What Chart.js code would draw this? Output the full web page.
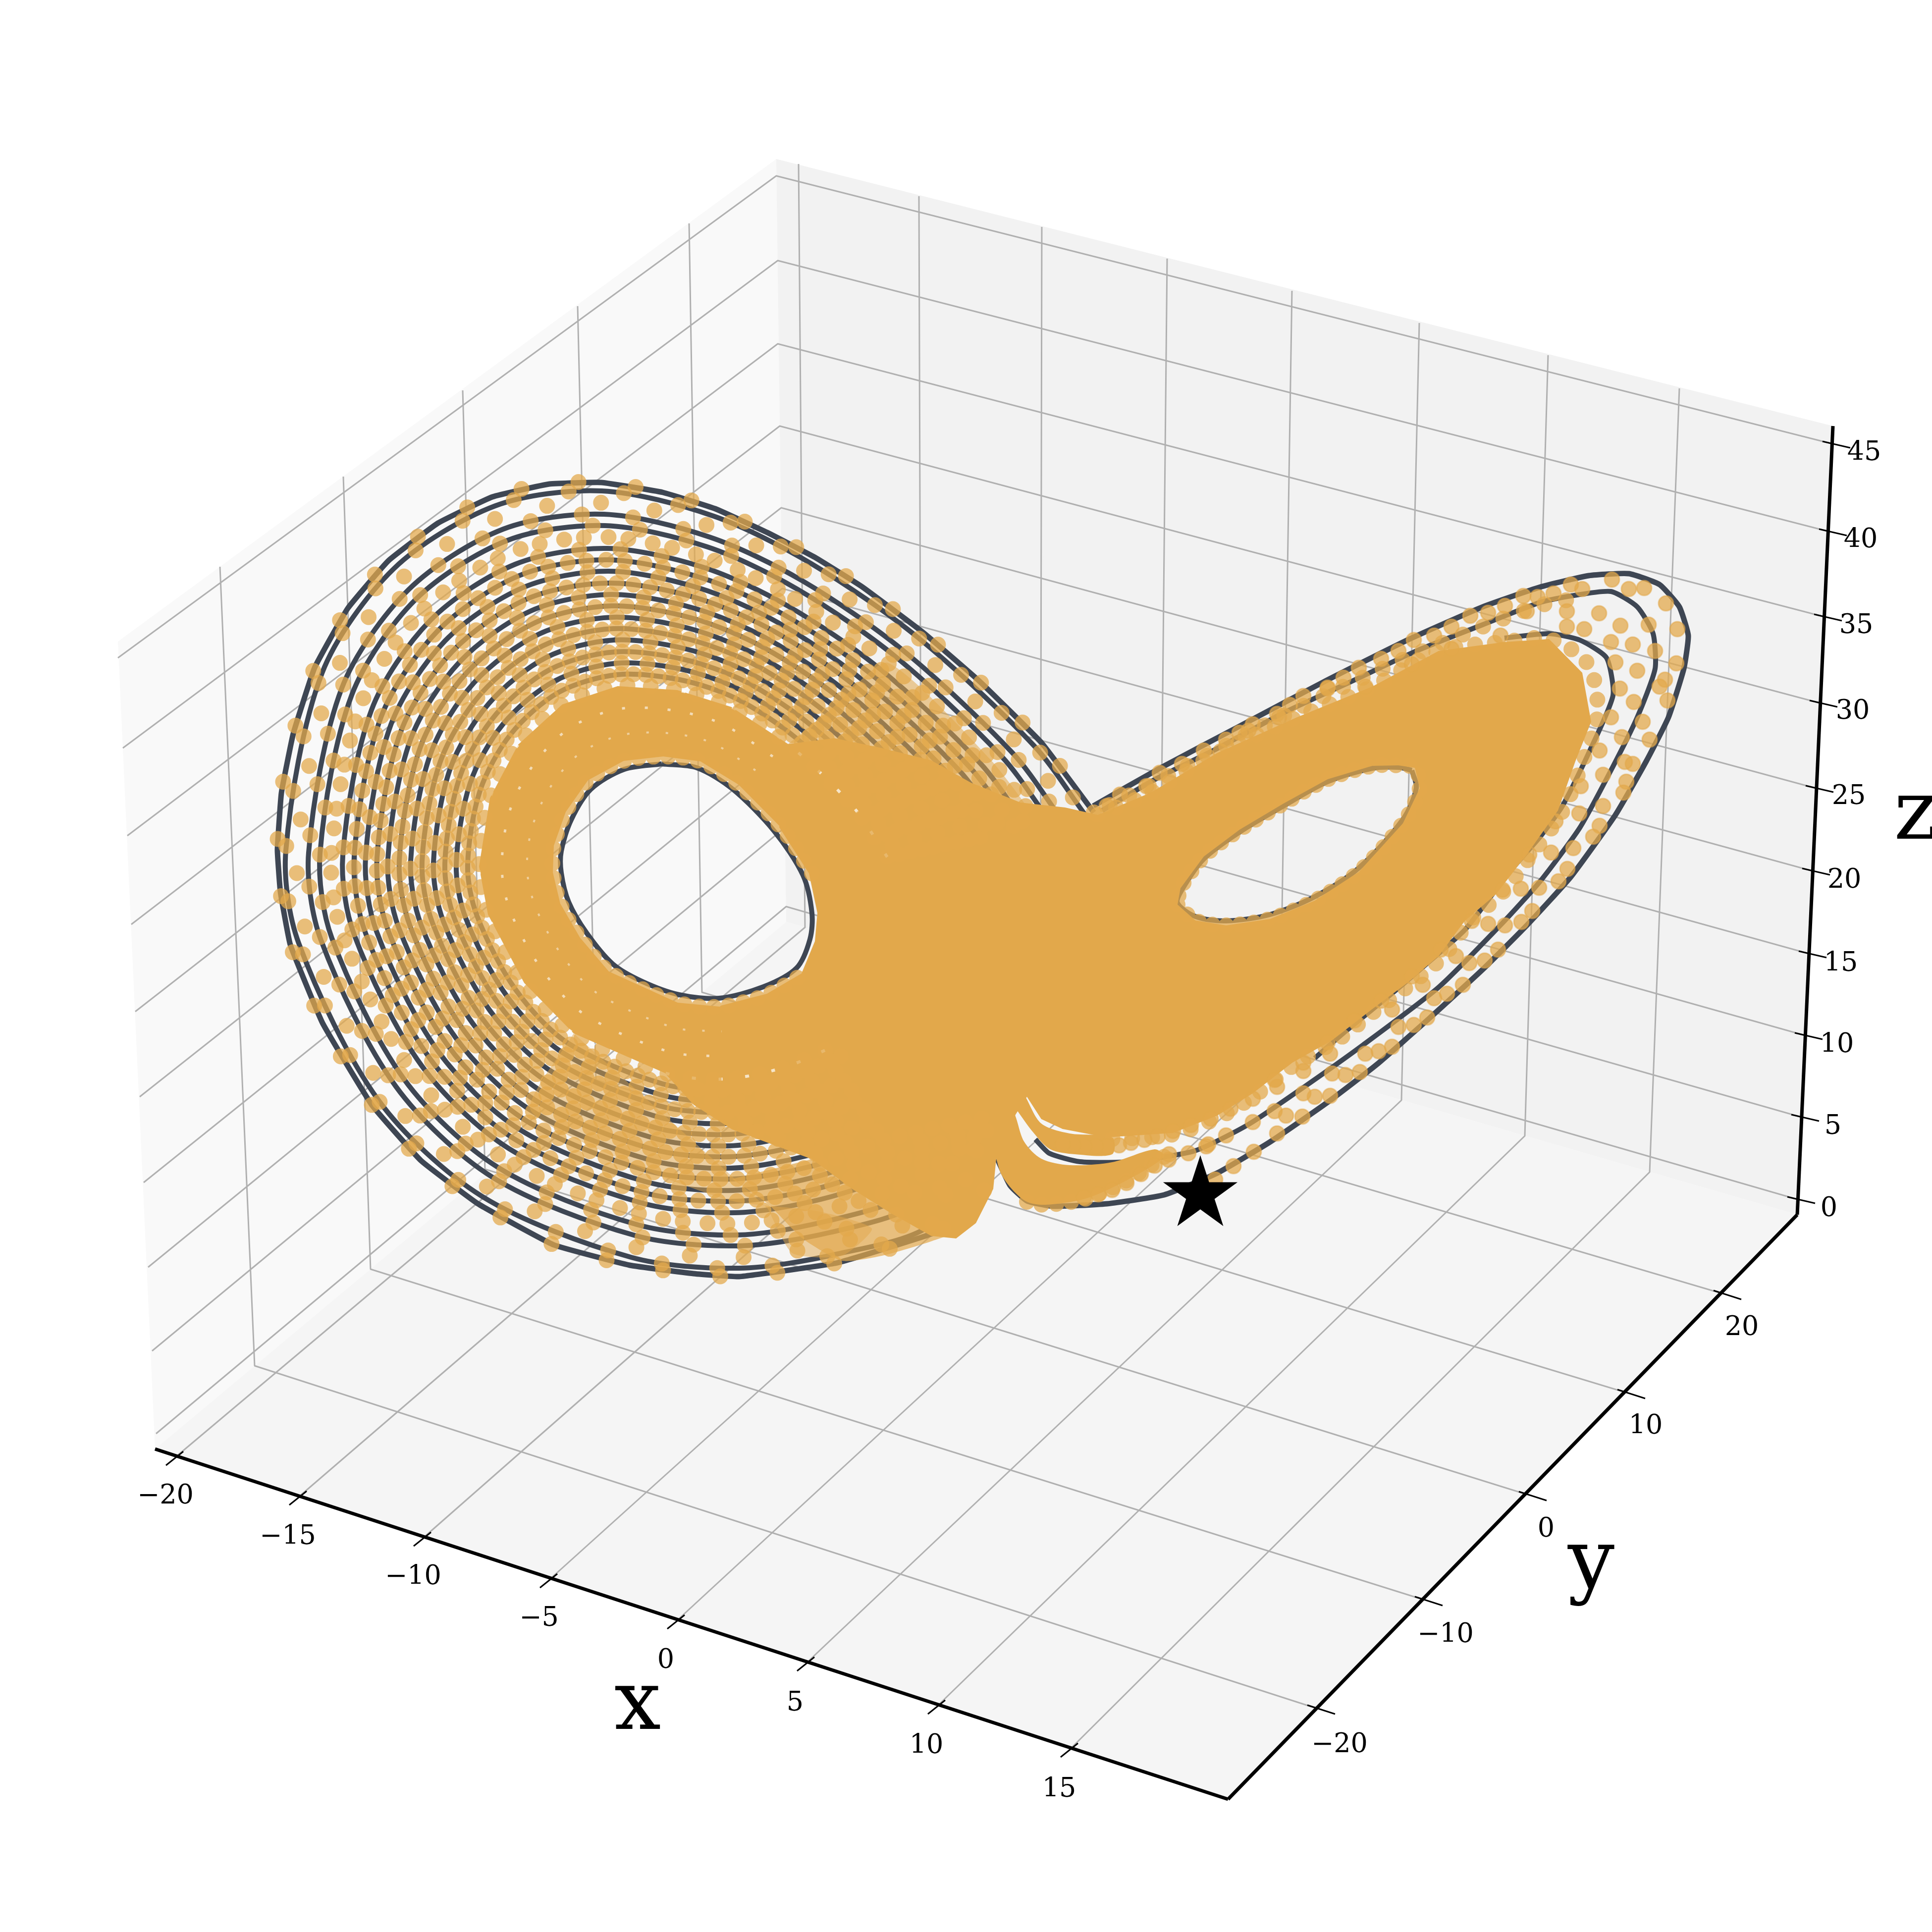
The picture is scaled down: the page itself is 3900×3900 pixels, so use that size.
<!DOCTYPE html>
<html>
<head>
<meta charset="utf-8">
<style>
  html, body { margin: 0; padding: 0; background: #fff; }
  canvas { display: block; }
</style>
<script src="https://cdn.jsdelivr.net/npm/chart.js@4"></script>
</head>
<body>
<canvas id="chart" width="3900" height="3900"></canvas>
<script>
// tick labels
const xTickLabels = ["−20", "−15", "−10", "−5", "0", "5", "10", "15"];
const yTickLabels = ["−20", "−10", "0", "10", "20"];
const zTickLabels = ["45", "40", "35", "30", "25", "20", "15", "10", "5", "0"];

// box, all in the flat view plane of the 3D picture
const leftPane = [[238,1295],[1567,321],[1587,1861],[313,2925]];
const backPane = [[1567,321],[3700,860],[3628,2452],[1587,1861]];
const floorPane = [[313,2925],[1587,1861],[3628,2452],[2479,3632]];
const axisX = [[313,2925],[2479,3632]];
const axisY = [[2479,3632],[3628,2452]];
const axisZ = [[3628,2452],[3700,860]];

const xGrid = [
  [[357,2939],[1625,1872],[1612,331]], [[606,3019],[1860,1940],[1855,396]],
  [[857,3102],[2100,2010],[2103,458]], [[1112,3186],[2340,2079],[2356,522]],
  [[1369,3269],[2583,2149],[2608,587]], [[1631,3354],[2829,2221],[2865,652]],
  [[1895,3441],[3078,2293],[3125,717]], [[2163,3528],[3330,2366],[3390,784]],
];
const yGrid = [
  [[2656,3448],[514,2757],[444,1144]], [[2873,3229],[748,2562],[693,962]],
  [[3083,3017],[979,2360],[934,788]], [[3282,2811],[1203,2180],[1166,618]],
  [[3476,2611],[1417,2003],[1391,451]],
];
const zGrid = [
  [[238,1328],[1567,355],[3699,896]], [[248,1510],[1570,526],[3692,1073]],
  [[257,1687],[1570,694],[3682,1245]], [[265,1866],[1574,860],[3673,1419]],
  [[273,2042],[1577,1025],[3665,1591]], [[282,2214],[1579,1188],[3658,1758]],
  [[290,2387],[1581,1350],[3651,1925]], [[299,2558],[1583,1510],[3643,2090]],
  [[307,2727],[1585,1670],[3636,2255]], [[315,2894],[1587,1830],[3628,2421]],
];
const xLabelAt = [[334,3021],[581,3103],[834,3184],[1088,3268],[1344,3353],[1605,3439],[1870,3525],[2138,3613]];
const yLabelAt = [[2704,3523],[2918,3301],[3121,3088],[3322,2880],[3516,2681]];
const zLabelAt = [[3763,915],[3756,1091],[3747,1264],[3740,1437],[3732,1609],[3723,1778],[3716,1946],[3708,2110],[3700,2275],[3692,2441]];

// left wing, traced loops from the outside in
const leftOuter = [[2208,1640],[2103,1500],[1977,1375],[1865,1278],[1741,1185],[1645,1125],[1549,1075],[1444,1027],[1338,994],[1214,974],[1109,977],[994,1003],[884,1056],[784,1132],[702,1228],[635,1348],[592,1481],[568,1601],[560,1716],[566,1800],[586,1907],[651,2065],[751,2231],[850,2343],[965,2430],[1118,2513],[1271,2554],[1400,2571],[1492,2577],[1691,2549],[1890,2487],[1977,2425],[2002,2313]];
const loop97 = [[2190,1644],[2087,1505],[1853,1287],[1638,1138],[1441,1042],[1215,991],[1000,1021],[795,1148],[650,1359],[577,1717],[603,1904],[764,2221],[973,2415],[1274,2538],[1491,2560],[1687,2532],[1882,2471],[1995,2300]];
const loop93 = [[2167,1649],[2065,1512],[1838,1300],[1628,1155],[1436,1063],[1217,1015],[1008,1044],[810,1169],[670,1374],[600,1719],[625,1901],[781,2207],[984,2396],[1278,2516],[1489,2538],[1681,2510],[1870,2450],[1995,2290]];
const loop89 = [[2143,1654],[2044,1520],[1823,1313],[1619,1172],[1432,1084],[1219,1038],[1016,1068],[825,1190],[690,1389],[623,1721],[648,1898],[799,2193],[995,2377],[1282,2494],[1488,2515],[1675,2488],[1859,2428],[1995,2285]];
const loop85 = [[2120,1659],[2022,1527],[1807,1325],[1609,1189],[1428,1104],[1221,1061],[1024,1091],[839,1210],[710,1403],[646,1723],[670,1894],[816,2179],[1006,2357],[1286,2472],[1486,2493],[1669,2465],[1848,2407],[1995,2280]];
const loop81 = [[2096,1664],[2000,1534],[1792,1338],[1600,1206],[1423,1125],[1223,1084],[1032,1115],[854,1231],[730,1418],[669,1725],[693,1891],[833,2165],[1017,2338],[1290,2450],[1484,2470],[1663,2443],[1836,2386],[1995,2275]];
const loop77 = [[2073,1669],[1979,1541],[1776,1350],[1590,1223],[1419,1145],[1225,1107],[1040,1139],[869,1252],[750,1433],[692,1727],[715,1887],[851,2151],[1028,2319],[1294,2428],[1483,2448],[1657,2421],[1825,2364],[1995,2270]];
const loop73 = [[2050,1674],[1957,1548],[1761,1363],[1581,1240],[1415,1166],[1226,1130],[1048,1162],[884,1273],[769,1448],[715,1728],[738,1884],[868,2137],[1038,2299],[1298,2407],[1481,2425],[1651,2399],[1814,2343],[1995,2265]];
const loop69 = [[2026,1679],[1936,1555],[1745,1376],[1571,1257],[1411,1187],[1228,1153],[1056,1186],[898,1294],[789,1463],[738,1730],[760,1880],[885,2123],[1049,2280],[1302,2385],[1480,2403],[1645,2376],[1803,2322],[1995,2260]];
const loop65 = [[2003,1684],[1914,1562],[1730,1388],[1562,1274],[1406,1207],[1230,1177],[1064,1209],[913,1315],[809,1477],[761,1732],[783,1877],[903,2109],[1060,2261],[1306,2363],[1478,2380],[1639,2354],[1791,2300],[1995,2255]];
const loop61 = [[1979,1690],[1892,1569],[1714,1401],[1552,1291],[1402,1228],[1232,1200],[1072,1233],[928,1336],[829,1492],[783,1734],[805,1873],[920,2095],[1071,2241],[1310,2341],[1476,2358],[1633,2332],[1780,2279]];
const loop57 = [[1956,1695],[1871,1577],[1699,1413],[1543,1308],[1398,1248],[1234,1223],[1080,1257],[943,1357],[849,1507],[806,1736],[828,1870],[937,2081],[1082,2222],[1314,2319],[1475,2335],[1627,2309],[1769,2258]];
const loop53 = [[1932,1700],[1849,1584],[1684,1426],[1533,1325],[1393,1269],[1236,1246],[1088,1280],[957,1378],[869,1522],[829,1738],[850,1867],[955,2067],[1093,2203],[1318,2297],[1473,2313],[1621,2287],[1757,2236]];
const loop49 = [[1909,1705],[1828,1591],[1668,1439],[1524,1342],[1389,1290],[1237,1269],[1095,1304],[972,1399],[889,1537],[852,1739],[873,1863],[972,2054],[1104,2183],[1322,2276],[1472,2290],[1615,2265],[1746,2215]];
const loop45 = [[1885,1710],[1806,1598],[1653,1451],[1514,1359],[1385,1310],[1239,1292],[1103,1327],[987,1420],[909,1551],[875,1741],[895,1860],[989,2040],[1115,2164],[1326,2254],[1470,2268],[1609,2243],[1735,2194]];
const loop41 = [[1862,1715],[1784,1605],[1637,1464],[1505,1376],[1380,1331],[1241,1316],[1111,1351],[1002,1441],[929,1566],[898,1743],[918,1856],[1006,2026],[1125,2144],[1330,2232],[1468,2245],[1603,2220],[1724,2173]];
const loop37 = [[1838,1720],[1763,1612],[1622,1476],[1495,1393],[1376,1351],[1243,1339],[1119,1375],[1016,1461],[949,1581],[921,1745],[940,1853],[1024,2012],[1136,2125],[1334,2210],[1467,2223],[1597,2198],[1712,2151]];
const loop33 = [[1815,1725],[1741,1619],[1606,1489],[1486,1410],[1372,1372],[1245,1362],[1127,1398],[1031,1482],[969,1596],[944,1747],[963,1849],[1041,1998],[1147,2106],[1338,2188],[1465,2200],[1591,2176],[1701,2130]];
const loop29 = [[1791,1730],[1720,1626],[1591,1502],[1476,1427],[1367,1393],[1247,1385],[1135,1422],[1046,1503],[989,1611],[967,1749],[985,1846],[1058,1984],[1158,2086],[1342,2166],[1464,2178],[1585,2154],[1690,2109]];
const loop21 = [[1560,1527],[1457,1461],[1359,1434],[1250,1431],[1151,1469],[1076,1545],[1028,1640],[1013,1752],[1030,1839],[1093,1956],[1180,2048],[1350,2123],[1460,2133]];
const loop12 = [[1525,1555],[1436,1499],[1349,1480],[1254,1484],[1169,1522],[1109,1592],[1073,1674],[1064,1756],[1081,1831],[1132,1925],[1204,2004],[1359,2074],[1457,2082]];
const loop03 = [[1639,1763],[1579,1673],[1491,1584],[1414,1537],[1339,1527],[1259,1536],[1187,1575],[1142,1639],[1118,1707],[1116,1761],[1131,1824],[1171,1893],[1229,1961],[1368,2024],[1453,2032],[1546,2009],[1616,1970]];
const leftHole = [[1336,1542],[1407,1550],[1479,1593],[1563,1678],[1621,1767],[1639,1843],[1635,1896],[1608,1954],[1541,1992],[1452,2015],[1371,2008],[1296,1981],[1237,1946],[1184,1883],[1148,1821],[1133,1762],[1133,1718],[1153,1655],[1193,1593],[1260,1553],[1336,1542]];

// right wing, traced loops
const rightOuter = [[2207,1627],[2341,1551],[2502,1466],[2671,1377],[2841,1292],[2993,1225],[3109,1185],[3207,1162],[3288,1158],[3350,1180],[3390,1225],[3408,1283],[3399,1350],[3368,1448],[3323,1537],[3261,1645],[3171,1770],[3082,1868],[2993,1957],[2886,2055],[2779,2149],[2680,2225],[2564,2305],[2457,2368],[2350,2412],[2234,2430],[2125,2435],[2073,2424],[2039,2393],[2013,2339]];
const rightSecond = [[2225,1636],[2332,1573],[2457,1511],[2591,1439],[2725,1377],[2859,1314],[2993,1261],[3109,1216],[3171,1203],[3252,1194],[3305,1225],[3337,1279],[3341,1350],[3305,1448],[3252,1555],[3189,1671],[3109,1779],[3037,1859],[2904,1993],[2752,2109],[2627,2198],[2520,2270],[2412,2323],[2279,2345],[2180,2345],[2118,2328],[2090,2300]];
const rightThird = [[3037,1288],[3127,1279],[3189,1292],[3243,1328],[3256,1404],[3207,1520],[3154,1627],[3109,1689],[3046,1761],[2957,1877],[2877,1948],[2814,2002],[2716,2082],[2654,2136]];
const rightHole = [[2850,1555],[2859,1591],[2832,1654],[2743,1752],[2654,1810],[2564,1846],[2475,1859],[2413,1850],[2377,1823],[2386,1796],[2430,1734],[2502,1680],[2591,1627],[2680,1578],[2770,1551],[2823,1549],[2850,1555]];
const rightRim = [[2377,1826],[2413,1858],[2475,1868],[2564,1855],[2654,1818],[2743,1760],[2832,1662],[2866,1591],[2856,1550],[2823,1545],[2770,1546],[2680,1573],[2591,1622],[2502,1675],[2430,1729],[2383,1793],[2377,1826]];
const rightTop = [[2240,1625],[2332,1580],[2457,1515],[2591,1445],[2725,1380],[2859,1320],[2993,1265],[3109,1222],[3171,1210]];
const rightEdge = [[2216,1645],[2323,1600],[2457,1520],[2618,1448],[2770,1386],[2904,1314],[3037,1296],[3127,1290],[3205,1340],[3225,1440],[3195,1537],[3155,1636],[3092,1725],[3030,1805],[2967,1859],[2914,1930],[2851,1984],[2780,2037],[2699,2100],[2619,2145],[2539,2207],[2467,2252],[2368,2290],[2234,2300]];

// right wing, the single dots that can be told apart
const dotsA = [[3228,1238],[3271,1263],[3296,1301],[3305,1354],[3298,1417],[3274,1488],[3236,1564],[3188,1642],[3131,1721],[3070,1794],[3004,1865],[2939,1930],[2872,1988],[2810,2038],[2685,2127],[2631,2162],[2578,2194],[2529,2218],[2484,2238],[2444,2258],[2404,2271],[2368,2283],[2337,2294],[2310,2301],[2283,2307],[2259,2312],[2234,2314],[2212,2314],[2189,2314],[2167,2312],[2145,2310]];
const dotsB = [[3386,1270],[3363,1218],[3319,1187],[3288,1189],[3254,1170],[3194,1189],[3171,1180],[3136,1198],[3104,1205],[3075,1203],[3038,1223],[3004,1237],[2968,1243],[2930,1265],[2895,1283],[2854,1292],[2823,1314],[2788,1330],[2743,1348],[2712,1368],[2680,1388],[2631,1405],[2604,1423],[2578,1441],[2529,1462],[2502,1479],[2475,1493],[2430,1515],[2386,1542],[2341,1560],[2314,1587],[2261,1604],[2234,1627]];
const dotsC = [[3384,1339],[3361,1372],[3366,1414],[3341,1314],[3328,1261],[3350,1386],[3330,1493],[3316,1457],[3296,1542],[3280,1538],[3283,1578],[3277,1600],[3236,1627],[3229,1667],[3216,1689],[3176,1712],[3164,1754],[3146,1779],[3107,1792],[3093,1839],[3071,1861],[3038,1868],[3024,1917],[2997,1939],[2966,1944],[2953,1988],[2921,2006],[2895,2015],[2881,2054],[2854,2069],[2823,2073],[2810,2113],[2783,2122],[2756,2127],[2745,2164],[2716,2170],[2689,2167],[2685,2212],[2654,2214],[2631,2207],[2629,2254],[2596,2252],[2573,2243],[2578,2288],[2529,2265],[2531,2325],[2490,2354],[2475,2292],[2439,2310],[2453,2381],[2435,2314],[2399,2328],[2359,2341]];
const dotsD = [[3229,1515],[3191,1587],[3140,1658],[3087,1725],[3033,1796],[2971,1859],[2908,1917],[2850,1971],[2788,2020],[2734,2060],[2680,2104],[2631,2145],[2573,2180],[3029,1283],[3082,1234],[3163,1234],[3163,1265],[3198,1270],[3252,1296],[3261,1337],[3270,1390],[3252,1448],[2930,1310],[2850,1341],[2756,1386],[2680,1390],[2582,1448],[2520,1475]];
const dotsE = [[2360,2330],[2331,2353],[2303,2370],[2274,2388],[2245,2402],[2217,2411],[2188,2417]];

// solid orange where the dots pile up
const leftBand = [[1791,1730],[1720,1626],[1591,1502],[1476,1427],[1367,1393],[1247,1385],[1135,1422],[1046,1503],[989,1611],[967,1749],[985,1846],[1058,1984],[1158,2086],[1342,2166],[1464,2178],[1585,2154],[1690,2109],[1616,1970],[1546,2009],[1453,2032],[1368,2024],[1229,1961],[1171,1893],[1131,1824],[1116,1761],[1118,1707],[1142,1639],[1187,1575],[1259,1536],[1339,1527],[1414,1537],[1491,1584],[1579,1673],[1639,1763]];
const centreMass = [[1633,1763],[1573,1670],[1591,1502],[1684,1490],[1780,1510],[1880,1535],[1960,1580],[2060,1620],[2150,1630],[2216,1645],[2370,1820],[2240,2100],[2145,2279],[2102,2259],[2073,2214],[2050,2250],[2030,2300],[2011,2339],[2005,2400],[1970,2469],[1930,2500],[1880,2495],[1800,2450],[1720,2400],[1639,2340],[1478,2280],[1400,2230],[1342,2166],[1455,2030],[1548,2006],[1618,1965],[1645,1900],[1650,1843]];
const upperHaze = [[1591,1502],[1684,1426],[1792,1338],[2000,1534],[2096,1664],[2060,1660],[1880,1570],[1780,1530]];
const bottomHaze = [[1158,2086],[1071,2241],[1306,2363],[1481,2425],[1651,2445],[1760,2480],[1700,2535],[1600,2530],[1550,2440]];
const lobeHaze = [[1639,2340],[1800,2400],[1995,2300],[1960,2470],[1882,2505],[1780,2535],[1700,2545],[1620,2500],[1550,2430],[1478,2380]];
const rightMass = [[2200,1815],[2216,1645],[2323,1600],[2457,1520],[2618,1448],[2770,1386],[2904,1314],[3037,1296],[3127,1290],[3194,1358],[3212,1457],[3180,1537],[3145,1636],[3082,1725],[3020,1805],[2957,1859],[2904,1930],[2841,1984],[2770,2037],[2689,2100],[2609,2145],[2529,2207],[2457,2252],[2368,2287],[2234,2296],[2145,2279],[2100,2200],[2200,1815],[2377,1826],[2413,1858],[2475,1868],[2564,1855],[2654,1818],[2743,1760],[2832,1662],[2866,1591],[2856,1550],[2823,1545],[2770,1546],[2680,1573],[2591,1622],[2502,1675],[2430,1729],[2383,1793],[2377,1826]];
const lowerLobe = [[2000,2200],[2044,2241],[2067,2304],[2102,2339],[2159,2352],[2245,2346],[2331,2320],[2350,2335],[2270,2385],[2190,2420],[2110,2432],[2073,2426],[2044,2402],[2021,2370],[2011,2339]];
const lowerBand = [[2070,2214],[2102,2268],[2159,2288],[2245,2296],[2245,2330],[2170,2330],[2120,2320],[2085,2285],[2052,2240]];
const lowerRim = [[2073,2426],[2110,2432],[2190,2420],[2270,2385],[2350,2335]];

const startPoint = [[2423,2411]];

const ORANGE = "#e2a84b";
const DOT = "rgba(226, 168, 75, 0.74)";
const DARK = "#3e4653";
const GRID = "#b0b0b0";

function toXY(pts) {
    return pts.map((p) => ({ x: p[0], y: p[1] }));
}

function polyline(pts, color, width, tension, dash) {
    return {
        data: toXY(pts),
        showLine: true,
        pointRadius: 0,
        borderColor: color,
        borderWidth: width,
        borderJoinStyle: "round",
        borderDash: dash || [],
        tension: tension || 0,
    };
}

function shape(pts, color, tension) {
    return {
        data: toXY(pts),
        showLine: true,
        pointRadius: 0,
        borderWidth: 0,
        borderColor: "rgba(0, 0, 0, 0)",
        backgroundColor: color,
        fill: "shape",
        tension: tension || 0,
    };
}

// round dots strung along a loop, gap is the spacing along the curve
function dotted(pts, gap, phase) {
    return {
        data: toXY(pts),
        showLine: true,
        pointRadius: 0,
        borderColor: DOT,
        borderWidth: 32,
        borderCapStyle: "round",
        borderDash: [0, gap],
        borderDashOffset: phase || 0,
        tension: 0.3,
    };
}

function dots(pts) {
    return {
        data: toXY(pts),
        showLine: false,
        pointRadius: 15,
        pointBackgroundColor: DOT,
        pointBorderColor: "rgba(226, 168, 75, 0.55)",
        pointBorderWidth: 3,
    };
}

function starImage(radius) {
    const c = document.createElement("canvas");
    c.width = c.height = radius * 2 + 4;
    const g = c.getContext("2d");
    g.translate(radius + 2, radius + 2);
    g.beginPath();
    for (let i = 0; i < 10; i++) {
        const r = i % 2 ? radius * 0.382 : radius;
        const a = -Math.PI / 2 + i * Math.PI / 5;
        g.lineTo(r * Math.cos(a), r * Math.sin(a));
    }
    g.closePath();
    g.fillStyle = "#000";
    g.fill();
    return c;
}

const tickMarks = (at, out, inn) => at.map((p) => polyline(
    [[p[0] + out[0], p[1] + out[1]], [p[0] + inn[0], p[1] + inn[1]]], "#000", 3));

const darkLoops = [loop97, loop89, loop85, loop77, loop73, loop69, loop65, loop61, loop57, loop53, loop49, loop45, loop41, loop37, loop33];
const dotLoops = [
    [loop97, 112, 70], [loop93, 109, 20], [loop89, 104, 60], [loop85, 96, 15], [loop81, 90, 45], [loop77, 84, 70],
    [loop73, 78, 30], [loop69, 72, 50], [loop65, 68, 10], [loop61, 66], [loop57, 64], [loop53, 61],
    [loop49, 59], [loop45, 56], [loop41, 54], [loop37, 52], [loop33, 50], [loop29, 47],
    // second pass, later orbits falling between the first ones
    [loop81, 90, 5], [loop73, 78, 70], [loop65, 68, 44], [loop57, 64, 32],
    [loop49, 59, 30], [loop41, 54, 27], [loop33, 50, 25],
];

// bottom to top, reversed below because Chart.js paints the first dataset last
const layers = [
    shape(leftPane, "#f9f9f9"), shape(backPane, "#f2f2f2"), shape(floorPane, "#f5f5f5"),
    ...xGrid.map((g) => polyline(g, GRID, 3)),
    ...yGrid.map((g) => polyline(g, GRID, 3)),
    ...zGrid.map((g) => polyline(g, GRID, 3)),
    polyline(axisX, "#000", 7), polyline(axisY, "#000", 7), polyline(axisZ, "#000", 7),
    ...tickMarks(xGrid.map((g) => g[0]), [-22, 19], [13, -9]),
    ...tickMarks(yGrid.map((g) => g[0]), [39, 12], [-17, -6]),
    ...tickMarks(zGrid.map((g) => g[2]), [36, 8], [-20, -5]),
    polyline(leftOuter, DARK, 11, 0.1),
    ...darkLoops.map((l) => polyline(l, DARK, 10, 0.3)),
    polyline(leftHole, DARK, 10, 0.3),
    polyline(rightOuter, DARK, 11, 0.15),
    polyline(rightSecond, DARK, 10, 0.2),
    polyline(rightThird, DARK, 10, 0.2),
    polyline(rightHole, DARK, 10, 0.3),
    shape(upperHaze, "rgba(226, 168, 75, 0.55)", 0.2),
    shape(bottomHaze, "rgba(226, 168, 75, 0.5)", 0.2),
    shape(lobeHaze, "rgba(226, 168, 75, 0.7)", 0.2),
    shape(leftBand, ORANGE), shape(centreMass, ORANGE), shape(rightMass, ORANGE),
    shape(lowerLobe, ORANGE, 0.3), shape(lowerBand, ORANGE, 0.3),
    polyline(loop29, "rgba(255, 255, 255, 0.7)", 6, 0.3, [8, 46]),
    polyline(loop21, "rgba(255, 255, 255, 0.6)", 5, 0.3, [6, 40]),
    polyline(loop12, "rgba(255, 255, 255, 0.45)", 4, 0.3, [5, 34]),
    dotted(leftOuter, 116),
    ...dotLoops.map((d) => dotted(d[0], d[1], d[2])),
    dotted(loop03, 30),
    dotted(rightRim, 28),
    dotted(rightTop, 44),
    dotted(rightEdge, 40),
    dotted(lowerRim, 30),
    dots(dotsA), dots(dotsB), dots(dotsC), dots(dotsD), dots(dotsE),
    {
        data: toXY(startPoint),
        showLine: false,
        pointStyle: starImage(79),
        pointRadius: 79,
    },
];

const tickText = {
    id: "tickText",
    afterDatasetsDraw(chart) {
        const { ctx, scales } = chart;
        const put = (text, at, size) => {
            ctx.font = size + 'px "DejaVu Serif"';
            ctx.fillText(text, scales.x.getPixelForValue(at[0]), scales.y.getPixelForValue(at[1]));
        };
        ctx.save();
        ctx.fillStyle = "#000";
        ctx.textAlign = "center";
        ctx.textBaseline = "middle";
        xTickLabels.forEach((t, i) => put(t, xLabelAt[i], 54));
        yTickLabels.forEach((t, i) => put(t, yLabelAt[i], 54));
        zTickLabels.forEach((t, i) => put(t, zLabelAt[i], 54));
        put("x", [1287, 3447], 167);
        put("y", [3212, 3162], 167);
        put("z", [3867, 1650], 167);
        ctx.restore();
    },
};

new Chart(document.getElementById("chart"), {
    type: "scatter",
    data: { datasets: layers.reverse() },
    options: {
        responsive: false,
        animation: false,
        devicePixelRatio: 1,
        layout: { padding: 0, autoPadding: false },
        plugins: { legend: { display: false }, tooltip: { enabled: false } },
        scales: {
            x: { type: "linear", min: 0, max: 3900, display: false },
            y: { type: "linear", min: 0, max: 3900, reverse: true, display: false },
        },
    },
    plugins: [tickText],
});
</script>
</body>
</html>
